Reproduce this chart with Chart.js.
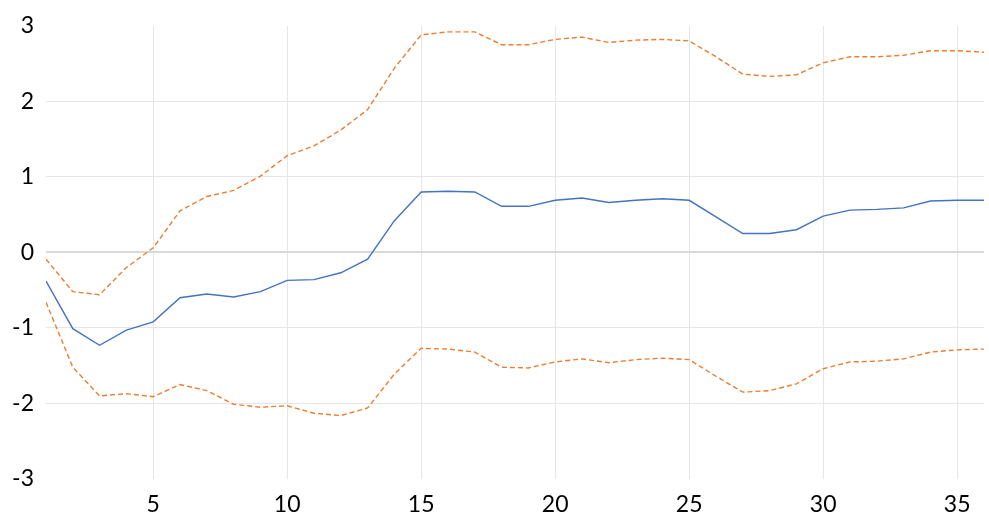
<!DOCTYPE html>
<html>
<head>
<meta charset="utf-8">
<script src="https://cdn.jsdelivr.net/npm/chart.js@4.4.1/dist/chart.umd.min.js"></script>
<style>
  html, body { margin: 0; padding: 0; background: #ffffff; }
  #wrap { width: 989px; height: 517px; }
</style>
</head>
<body>
<div id="wrap"><canvas id="c" width="989" height="517"></canvas></div>
<script>
const periods = [1,2,3,4,5,6,7,8,9,10,11,12,13,14,15,16,17,18,19,20,21,22,23,24,25,26,27,28,29,30,31,32,33,34,35,36];
const estimate = [-0.38,-1.01,-1.23,-1.03,-0.92,-0.60,-0.55,-0.59,-0.52,-0.37,-0.36,-0.27,-0.09,0.42,0.80,0.81,0.80,0.61,0.61,0.69,0.72,0.66,0.69,0.71,0.69,0.47,0.25,0.25,0.30,0.48,0.56,0.57,0.59,0.68,0.69,0.69];
const upperBand = [-0.09,-0.52,-0.56,-0.20,0.06,0.55,0.74,0.82,1.01,1.28,1.41,1.62,1.89,2.44,2.88,2.92,2.92,2.75,2.75,2.82,2.85,2.78,2.81,2.82,2.80,2.59,2.36,2.33,2.35,2.51,2.59,2.59,2.61,2.67,2.67,2.65];
const lowerBand = [-0.66,-1.52,-1.90,-1.87,-1.91,-1.75,-1.83,-2.01,-2.05,-2.03,-2.13,-2.16,-2.06,-1.61,-1.27,-1.28,-1.32,-1.52,-1.53,-1.45,-1.41,-1.46,-1.42,-1.40,-1.42,-1.64,-1.85,-1.83,-1.74,-1.54,-1.45,-1.44,-1.41,-1.32,-1.29,-1.28];
const xTicks = [5,10,15,20,25,30,35];
const yTicks = [-3,-2,-1,0,1,2,3];

const toPts = vals => vals.map((v, i) => ({x: periods[i], y: v}));
const FONT = {family: 'Lato, "Open Sans", sans-serif', size: 23};

new Chart(document.getElementById('c'), {
  type: 'line',
  data: {
    datasets: [
      {data: toPts(upperBand), borderColor: '#ED7D31', borderWidth: 1.4, borderDash: [5,3], pointRadius: 0, fill: false, tension: 0},
      {data: toPts(lowerBand), borderColor: '#ED7D31', borderWidth: 1.4, borderDash: [5,3], pointRadius: 0, fill: false, tension: 0},
      {data: toPts(estimate), borderColor: '#4472C4', borderWidth: 1.4, pointRadius: 0, fill: false, tension: 0}
    ]
  },
  options: {
    responsive: false,
    animation: false,
    layout: {padding: {top: 23, right: 5, left: 0, bottom: 0}},
    plugins: {legend: {display: false}, tooltip: {enabled: false}},
    scales: {
      x: {
        type: 'linear', min: 1, max: 36,
        afterBuildTicks: s => { s.ticks = xTicks.map(v => ({value: v})); },
        afterFit: s => { s.height = 38; },
        border: {display: false},
        grid: {color: '#e6e6e6', lineWidth: 1, drawTicks: false},
        ticks: {font: FONT, color: '#000', padding: 12, maxRotation: 0, autoSkip: false}
      },
      y: {
        type: 'linear', min: -3, max: 3,
        afterBuildTicks: s => { s.ticks = yTicks.map(v => ({value: v})); },
        afterFit: s => { s.width = 46; },
        border: {display: false},
        grid: {
          drawTicks: false,
          color: ctx => (ctx.tick && (ctx.tick.value === 3 || ctx.tick.value === -3)) ? 'rgba(0,0,0,0)' : (ctx.tick && ctx.tick.value === 0 ? '#d9d9d9' : '#e6e6e6'),
          lineWidth: ctx => (ctx.tick && ctx.tick.value === 0) ? 2 : 1
        },
        ticks: {font: FONT, color: '#000', padding: 12}
      }
    }
  }
});
</script>
</body>
</html>
